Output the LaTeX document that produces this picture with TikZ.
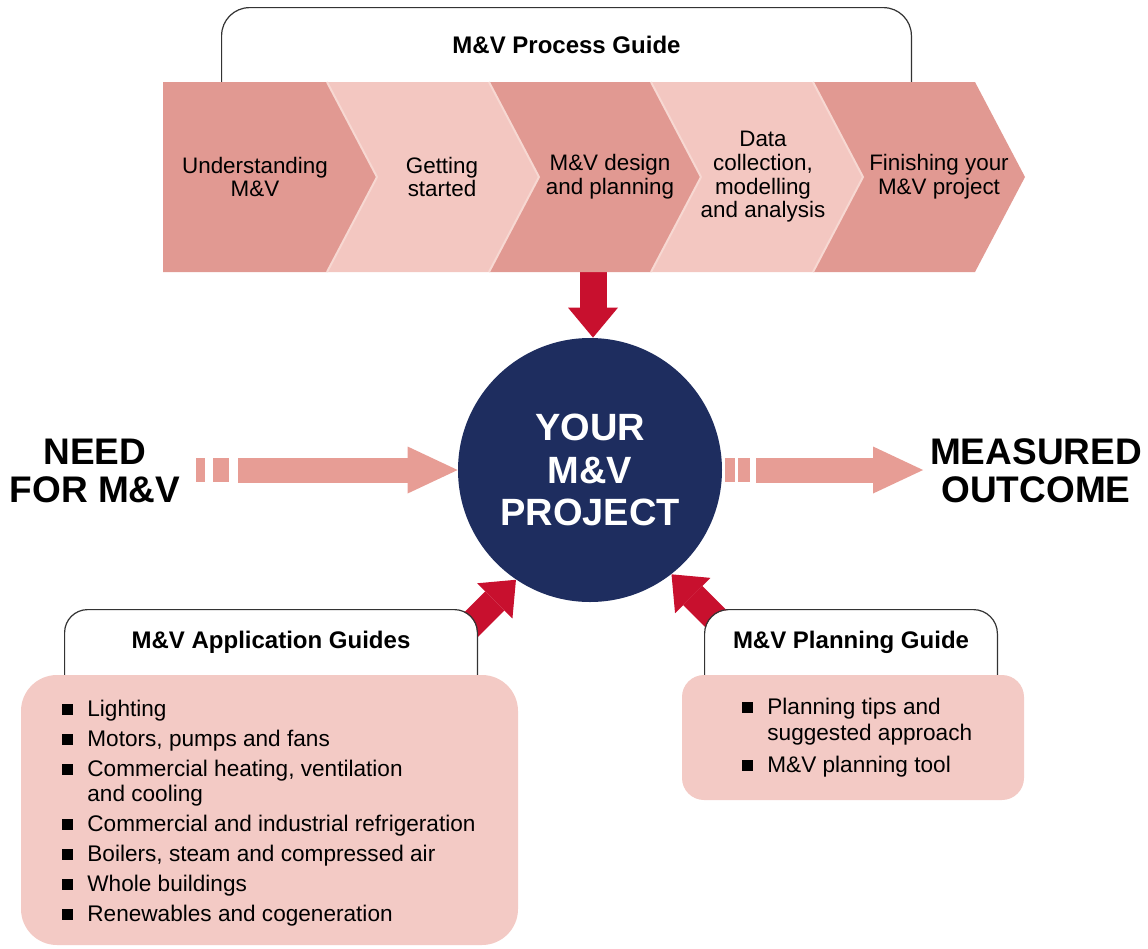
\documentclass[tikz,border=0pt]{standalone}
\usepackage{fontspec}
\setmainfont{Liberation Sans}
\usetikzlibrary{arrows.meta}
\usetikzlibrary{calc}
\usetikzlibrary{positioning}
\definecolor{chevdark}{RGB}{225,153,146}
\definecolor{chevlight}{RGB}{243,199,193}
\definecolor{chevedge}{RGB}{247,216,210}
\definecolor{boxpink}{RGB}{243,202,197}
\definecolor{flowpink}{RGB}{231,157,149}
\definecolor{guidered}{RGB}{200,16,46}
\definecolor{hubblue}{RGB}{30,45,95}
\tikzset{
    tabline/.style = {draw=black!80,line width=0.6pt},
    tabtitle/.style = {fill=white,inner sep=0,font=\fontsize{12}{14}\selectfont\bfseries},
    steplabel/.style = {align=center,font=\fontsize{11.2}{11.8}\selectfont},
    listtext/.style = {align=left,inner sep=0,anchor=north west,font=\fontsize{11.3}{12.5}\selectfont},
    listbox/.style = {fill=boxpink,inner sep=0},
    bigword/.style = {align=center,font=\fontsize{18.5}{19}\selectfont\bfseries}
}
\tikzset{
    guide/.style = {draw=guidered,line width=13.5pt,-{Triangle[length=15pt,width=25pt,line width=0pt]}},
    flow/.style = {draw=flowpink,line width=12.5pt,-{Triangle[length=25pt,width=23.5pt,line width=0pt]}}
}
\begin{document}
\begin{tikzpicture}[x=0.5pt,y=-0.5pt]
        \useasboundingbox (0,0) rectangle (1148,949);
        \newcommand*\csep{162}
        \newcommand*\ctip{50}
        \newcommand*\bul{\makebox[12.5pt][l]{\rule[0.8pt]{5.2pt}{5.2pt}}}
        % Hub and outer words
        \node[circle,fill=hubblue,minimum size=132pt,inner sep=0,text=white,align=center,
            font=\fontsize{19}{21.2}\selectfont\bfseries] (hub) at (590,470) {YOUR\\M\&V\\PROJECT};
        \node[bigword] (need) at (95,471) {NEED\\FOR M\&V};
        \node[bigword] (outcome) at (1036,471) {MEASURED\\OUTCOME};
        % Guide arrows
        \coordinate (procfoot) at (593,250);
        \draw[guide] (procfoot) -- (procfoot |- hub.north);
        \draw[guide] ($(hub.236)+(-66,66)$) -- (hub.236);
        \draw[guide] ($(hub.308)+(66,66)$) -- (hub.308);
        % Flow arrows
        \coordinate (needgo) at (238,470);
        \coordinate (outgo) at (756,470);
        \foreach \xa/\xb in {196/205,213/229,725/735,738/750}
            \fill[flowpink] (\xa,458) rectangle (\xb,482);
        \draw[flow] (needgo) -- (hub.west |- needgo);
        \draw[flow] (outgo) -- (outcome.west |- outgo);
        % Tabs
        \node[tabtitle,rounded corners=14pt,minimum width=344.5pt,minimum height=37pt] (proctab) at (566.5,45) {M\&V Process Guide};
        \node[tabtitle,rounded corners=11.5pt,minimum width=206pt,minimum height=32.5pt] (apptab) at (271,642.5) {M\&V Application Guides};
        \node[tabtitle,rounded corners=12pt,minimum width=146pt,minimum height=32.5pt] (plantab) at (851,642.5) {M\&V Planning Guide};
        \draw[tabline,rounded corners=14pt] (proctab.south west) |- (proctab.north east) -- (proctab.south east);
        \draw[tabline,rounded corners=11.5pt] (apptab.south west) |- (apptab.north east) -- (apptab.south east);
        \draw[tabline,rounded corners=12pt] (plantab.south west) |- (plantab.north east) -- (plantab.south east);
        % Process steps
        \foreach \i/\col/\tx/\lbl in {1/chevdark/255/{Understanding\\M\&V},
                2/chevlight/442/{Getting\\started},
                3/chevdark/610/{M\&V design\\and planning},
                4/chevlight/763/{Data\\collection,\\modelling\\and analysis},
                5/chevdark/939/{Finishing your\\M\&V project}} {
            \pgfmathsetmacro\rx{327+(\i-1)*\csep}
            \pgfmathsetmacro\lx{ifthenelse(\i==1,163,\rx-\csep)}
            \pgfmathsetmacro\nd{ifthenelse(\i==1,0,\ctip)}
            \fill[\col] (\lx,82) -- (\rx,82) -- (\rx+\ctip,177) -- (\rx,272) -- (\lx,272) -- (\lx+\nd,177) -- cycle;
            \node[steplabel] (step\i) at (\tx,177) {\lbl};
        }
        \foreach \i in {1,...,4}
            \draw[chevedge,line width=1pt] (327+\i*\csep-\csep,82) -- (377+\i*\csep-\csep,177) -- (327+\i*\csep-\csep,272);
        % Guide contents
        \node[listbox,rounded corners=18pt,minimum width=248.5pt,minimum height=135pt] (appbox) at (269.5,810) {};
        \node[listbox,rounded corners=11pt,minimum width=171pt,minimum height=62.5pt] (planbox) at (853,737.5) {};
        \node[listtext] (applist) at (62,699.5) {\bul Lighting\\[2.5pt]
            \bul Motors, pumps and fans\\[2.5pt]
            \bul Commercial heating, ventilation\\
            \hspace*{12.5pt}and cooling\\[2.5pt]
            \bul Commercial and industrial refrigeration\\[2.5pt]
            \bul Boilers, steam and compressed air\\[2.5pt]
            \bul Whole buildings\\[2.5pt]
            \bul Renewables and cogeneration};
        \node[listtext] (planlist) at (742,697.5) {\bul Planning tips and\\[0.5pt]
            \hspace*{12.5pt}suggested approach\\[3.5pt]
            \bul M\&V planning tool};
    \end{tikzpicture}
\end{document}
